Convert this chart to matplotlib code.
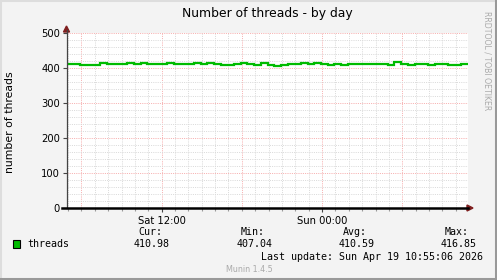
import matplotlib
matplotlib.use("Agg")
import matplotlib.pyplot as plt
from matplotlib.patches import Polygon, Rectangle
from matplotlib.lines import Line2D

# hours since Sat 00:00, half-hour samples (last update Sun 10:55)
hours = [4.92 + 0.5 * i for i in range(61)]
threads = [411, 411, 409, 408, 410, 413, 411, 411, 411, 413,
           412, 413, 411, 411, 411, 413, 411, 411, 412, 413,
           411, 413, 411, 410, 410, 411, 413, 411, 410, 413,
           410, 407.04, 410, 411, 411, 413, 412, 413, 411, 410,
           411, 410, 411, 411, 412, 411, 411, 411, 409, 416.85,
           412, 409, 411, 411, 409, 411, 411, 410, 409, 411,
           410.98]

x_major = [12, 24]
x_labels = ["Sat 12:00", "Sun 00:00"]
y_ticks = [0, 100, 200, 300, 400, 500]

stat_names = ["Cur:", "Min:", "Avg:", "Max:"]
stat_values = ["410.98", "407.04", "410.59", "416.85"]
last_update = "Last update: Sun Apr 19 10:55:06 2026"

W, H = 497, 280
BG = "#F3F3F3"
GREEN = "#00BB00"
RED_GRID = "#F7AFAF"
GREY_GRID = "#DADADA"
ARROW = "#7F1F1F"
MONO = "DejaVu Sans Mono"


def fx(px):
    return px / W


def fy(py):
    return 1 - py / H


fig = plt.figure(figsize=(W / 100, H / 100), dpi=100, facecolor=BG)
ax = fig.add_axes([fx(67), fy(208), fx(468) - fx(67), fy(33) - fy(208)])
ax.set_facecolor("white")
ax.set_xlim(hours[0], hours[-1])
ax.set_ylim(0, 500)

# grid: minor grey dotted, major red dotted
for h in range(5, 35):
    ax.axvline(h, color=RED_GRID if h % 6 == 0 else GREY_GRID,
               lw=0.72, ls=(0, (1, 1.2)), zorder=1)
for v in range(20, 501, 20):
    ax.axhline(v, color=RED_GRID if v % 100 == 0 else GREY_GRID,
               lw=0.72, ls=(0, (1, 1.2)), zorder=1)

ax.plot(hours, threads, color=GREEN, lw=1.6, drawstyle="steps-post",
        solid_joinstyle="miter", zorder=3)

for s in ax.spines.values():
    s.set_visible(False)
ax.set_xticks(x_major)
ax.set_xticklabels(x_labels)
ax.set_xticks(range(5, 35), minor=True)
ax.set_yticks(y_ticks)
ax.tick_params(axis="both", labelsize=7.2, length=3, width=0.8,
               color="#444444", pad=2)
ax.tick_params(axis="x", which="minor", length=2, width=0.8,
               color="#999999")
ax.tick_params(axis="x", pad=3)

# axes lines and arrows (pixel positions)
fig.add_artist(Line2D([fx(66.5), fx(66.5)], [fy(208), fy(30)],
                      color="#444444", lw=0.9))
fig.add_artist(Line2D([fx(62), fx(468)], [fy(208), fy(208)],
                      color="black", lw=1.8))
fig.add_artist(Polygon([(fx(63.5), fy(32)), (fx(69.5), fy(32)), (fx(66.5), fy(26))],
                       closed=True, color=ARROW))
fig.add_artist(Polygon([(fx(467), fy(205)), (fx(467), fy(211)), (fx(473), fy(208))],
                       closed=True, color=ARROW))

fig.text(fx(267), fy(13), "Number of threads - by day", ha="center",
         va="center", fontsize=8.9)
fig.text(fx(10), fy(122), "number of threads", rotation=90, ha="center",
         va="center", fontsize=7.8)
fig.text(fx(487), fy(61), "RRDTOOL / TOBI OETIKER", rotation=270,
         ha="center", va="center", fontsize=5.6, color="#AAAAAA")

# legend
fig.add_artist(Rectangle((fx(13), fy(247.5)), fx(7), fy(240) - fy(247.5),
                         facecolor=GREEN, edgecolor="black", lw=0.8))
fig.text(fx(27), fy(244), "threads", ha="left", va="center",
         fontsize=7.2, family=MONO)
name_right = [162, 265, 367, 469]
val_right = [170, 273, 375, 477]
for name, val, nr, vr in zip(stat_names, stat_values, name_right, val_right):
    fig.text(fx(nr), fy(232), name, ha="right", va="center",
             fontsize=7.2, family=MONO)
    fig.text(fx(vr), fy(244), val, ha="right", va="center",
             fontsize=7.2, family=MONO)
fig.text(fx(483), fy(256.5), last_update, ha="right", va="center",
         fontsize=7.2, family=MONO)
fig.text(fx(249), fy(269), "Munin 1.4.5", ha="center", va="center",
         fontsize=5.8, color="#AAAAAA")

# frame around image
fig.add_artist(Line2D([0, 1], [fy(0.5), fy(0.5)], color="#DDDDDD", lw=1.5))
fig.add_artist(Line2D([fx(0.5), fx(0.5)], [0, 1], color="#DDDDDD", lw=1.5))
fig.add_artist(Line2D([fx(495.5), fx(495.5)], [0, 1], color="#999999", lw=2.2))
fig.add_artist(Line2D([0, 1], [fy(278.5), fy(278.5)], color="#999999", lw=2.2))

fig.savefig("out.png", dpi=100, facecolor=BG)
